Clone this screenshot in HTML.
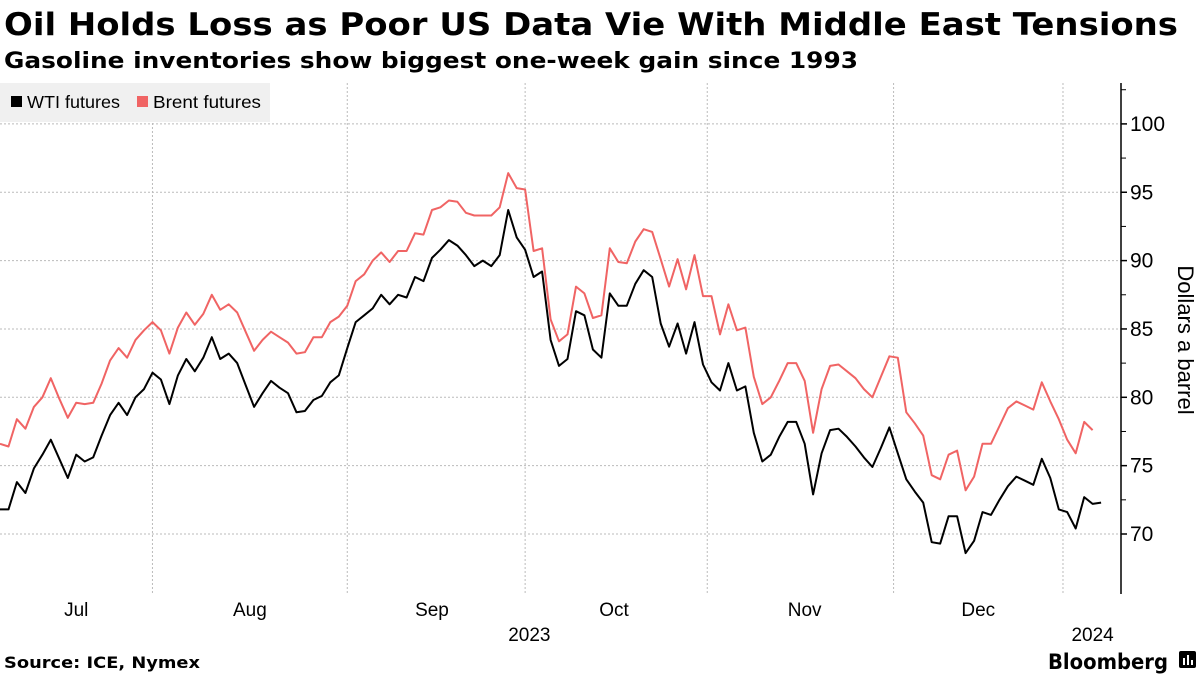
<!DOCTYPE html>
<html><head><meta charset="utf-8"><style>
html,body{margin:0;padding:0;background:#fff;}
svg{display:block;font-family:"DejaVu Sans","Liberation Sans",sans-serif;}
</style></head><body>
<svg id="chart" width="1200" height="675" viewBox="0 0 1200 675" xmlns="http://www.w3.org/2000/svg">
<text x="4" y="35" font-size="31" font-weight="bold" textLength="1174" lengthAdjust="spacingAndGlyphs">Oil Holds Loss as Poor US Data Vie With Middle East Tensions</text>
<text x="4" y="68" font-size="22" font-weight="bold" textLength="854" lengthAdjust="spacingAndGlyphs">Gasoline inventories show biggest one-week gain since 1993</text>
<g id="grid"></g>
<g id="series"></g>
<g>
<rect x="0" y="83" width="270" height="39" fill="#f0f0f0"/>
<g><rect x="11" y="96" width="11" height="11" fill="#000"/><text x="27" y="108" font-size="17.5" textLength="93" lengthAdjust="spacingAndGlyphs" font-family="Liberation Sans, sans-serif">WTI futures</text></g>
<g><rect x="137" y="96" width="11" height="11" fill="#f06464"/><text x="153" y="108" font-size="17.5" textLength="108" lengthAdjust="spacingAndGlyphs" font-family="Liberation Sans, sans-serif">Brent futures</text></g>
</g>
<g id="yaxis"></g>
<g id="xaxis"></g>
<text transform="translate(1178,340) rotate(90)" text-anchor="middle" font-size="22" font-family="Liberation Sans, sans-serif">Dollars a barrel</text>
<text x="4" y="668" font-size="16" font-weight="bold" textLength="196" lengthAdjust="spacingAndGlyphs">Source: ICE, Nymex</text>
<text x="1048" y="669" font-size="21" font-weight="bold" textLength="120" lengthAdjust="spacingAndGlyphs">Bloomberg</text>
<g><rect x="1179" y="651" width="17" height="17" rx="2" fill="#000"/><rect x="1183" y="658" width="2" height="7" fill="#fff"/><rect x="1187" y="655" width="2" height="10" fill="#fff"/><rect x="1191" y="660" width="2" height="5" fill="#fff"/></g>
</svg>
<script>
const wti = [71.8,71.8,73.8,73.0,74.8,75.8,76.9,75.5,74.1,75.8,75.3,75.6,77.2,78.7,79.6,78.7,80.0,80.6,81.8,81.3,79.5,81.6,82.8,81.9,82.9,84.4,82.8,83.2,82.5,80.9,79.3,80.3,81.2,80.7,80.3,78.9,79.0,79.8,80.1,81.1,81.6,83.6,85.5,86.0,86.5,87.5,86.8,87.5,
87.3,88.8,88.5,90.2,90.8,91.5,91.1,90.4,89.6,90.0,89.6,90.4,93.7,91.7,90.8,88.8,89.2,84.2,82.3,82.8,86.3,86.0,83.5,82.9,87.6,86.7,86.7,88.3,89.3,88.8,85.4,83.7,85.4,83.2,85.5,82.4,81.1,80.5,82.5,80.5,80.8,77.4,75.3,
75.8,77.1,78.2,78.2,76.6,72.9,75.9,77.6,77.7,77.1,76.4,75.6,74.9,76.3,77.8,75.9,74.0,73.1,72.3,69.4,69.3,71.3,71.3,68.6,69.5,71.6,71.4,72.5,73.5,74.2,73.9,73.6,75.5,74.1,71.8,71.6,70.4,72.7,72.2,72.3];
const brent = [76.6,76.4,78.4,77.7,79.3,80.0,81.4,79.9,78.5,79.6,79.5,79.6,81.0,82.7,83.6,82.9,84.2,84.9,85.5,84.9,83.2,85.1,86.2,85.3,86.1,87.5,86.4,86.8,86.2,84.8,83.4,84.2,84.8,84.4,84.0,83.2,83.3,84.4,84.4,85.5,85.9,86.7,88.5,89.0,90.0,90.6,89.9,90.7,
90.7,92.0,91.9,93.7,93.9,94.4,94.3,93.5,93.3,93.3,93.3,93.9,96.4,95.3,95.2,90.7,90.9,85.7,84.1,84.6,88.1,87.6,85.8,86.0,90.9,89.9,89.8,91.4,92.3,92.1,90.1,88.1,90.1,87.9,90.4,87.4,87.4,84.6,86.8,84.9,85.1,81.5,79.5,
80.0,81.2,82.5,82.5,81.2,77.4,80.6,82.3,82.4,81.9,81.4,80.6,80.0,81.5,83.0,82.9,78.9,78.1,77.2,74.3,74.0,75.8,76.1,73.2,74.2,76.6,76.6,77.9,79.2,79.7,79.4,79.1,81.1,79.7,78.4,76.9,75.9,78.2,77.6];
const yTicks = [70,75,80,85,90,95,100];
const monthLabels = ["Jul","Aug","Sep","Oct","Nov","Dec"];
const monthLabelIdx = [9,29.5,51,72.5,95,115.5];
const monthBoundIdx = [18,41,62,83.5,105.5,125.5];
const yearLabels = ["2023","2024"];
const yearLabelIdx = [62.5,129];

const NS="http://www.w3.org/2000/svg";
const STEP=8.47, Y0=534, PXU=13.67, AXISX=1121, TOP=83, BOT=594;
const xS=i=>i*STEP;
const yS=v=>Y0-(v-70)*PXU;
function mk(tag,attrs,parent){const e=document.createElementNS(NS,tag);for(const k in attrs)e.setAttribute(k,attrs[k]);parent.appendChild(e);return e;}
const grid=document.getElementById('grid'),ser=document.getElementById('series'),ya=document.getElementById('yaxis'),xa=document.getElementById('xaxis');
yTicks.forEach(t=>{
  const y=yS(t);
  const g=mk('line',{x1:0,x2:AXISX,y1:y,y2:y,stroke:'#bbb','stroke-dasharray':'2,2','stroke-width':1},grid);
  
  
  const tk=mk('line',{x1:AXISX,x2:AXISX+6,y1:y,y2:y,stroke:'#000','stroke-width':1.5},ya);
  
  
  const m=mk('line',{x1:AXISX,x2:AXISX+5,y1:yS(t+2.5),y2:yS(t+2.5),stroke:'#000','stroke-width':1},ya);
  
  
  const tx=mk('text',{x:AXISX+9,y:y+7,'font-size':21,'font-family':'Liberation Sans, sans-serif'},ya);
  tx.textContent=t;
  
  
});
const ax=mk('line',{x1:AXISX,x2:AXISX,y1:TOP,y2:BOT,stroke:'#000','stroke-width':1.5},ya);


monthBoundIdx.forEach(i=>{
  const l=mk('line',{x1:xS(i),x2:xS(i),y1:TOP,y2:BOT,stroke:'#bbb','stroke-dasharray':'2,2','stroke-width':1},grid);
  
  
});
monthLabels.forEach((m,k)=>{
  const t=mk('text',{x:xS(monthLabelIdx[k]),y:616,'text-anchor':'middle','font-size':19,'font-family':'Liberation Sans, sans-serif'},xa);
  t.textContent=m;
  
  
});
yearLabels.forEach((m,k)=>{
  const t=mk('text',{x:xS(yearLabelIdx[k]),y:641,'text-anchor':'middle','font-size':19,'font-family':'Liberation Sans, sans-serif'},xa);
  t.textContent=m;
  
  
});
function line(data,color,name){
  const p=mk('polyline',{points:data.map((v,i)=>xS(i).toFixed(1)+','+yS(v).toFixed(1)).join(' '),fill:'none',stroke:color,'stroke-width':2,'stroke-linejoin':'round'},ser);
  
  
}
line(brent,'#f06464','brent-line');
line(wti,'#000','wti-line');
</script>
</body></html>
